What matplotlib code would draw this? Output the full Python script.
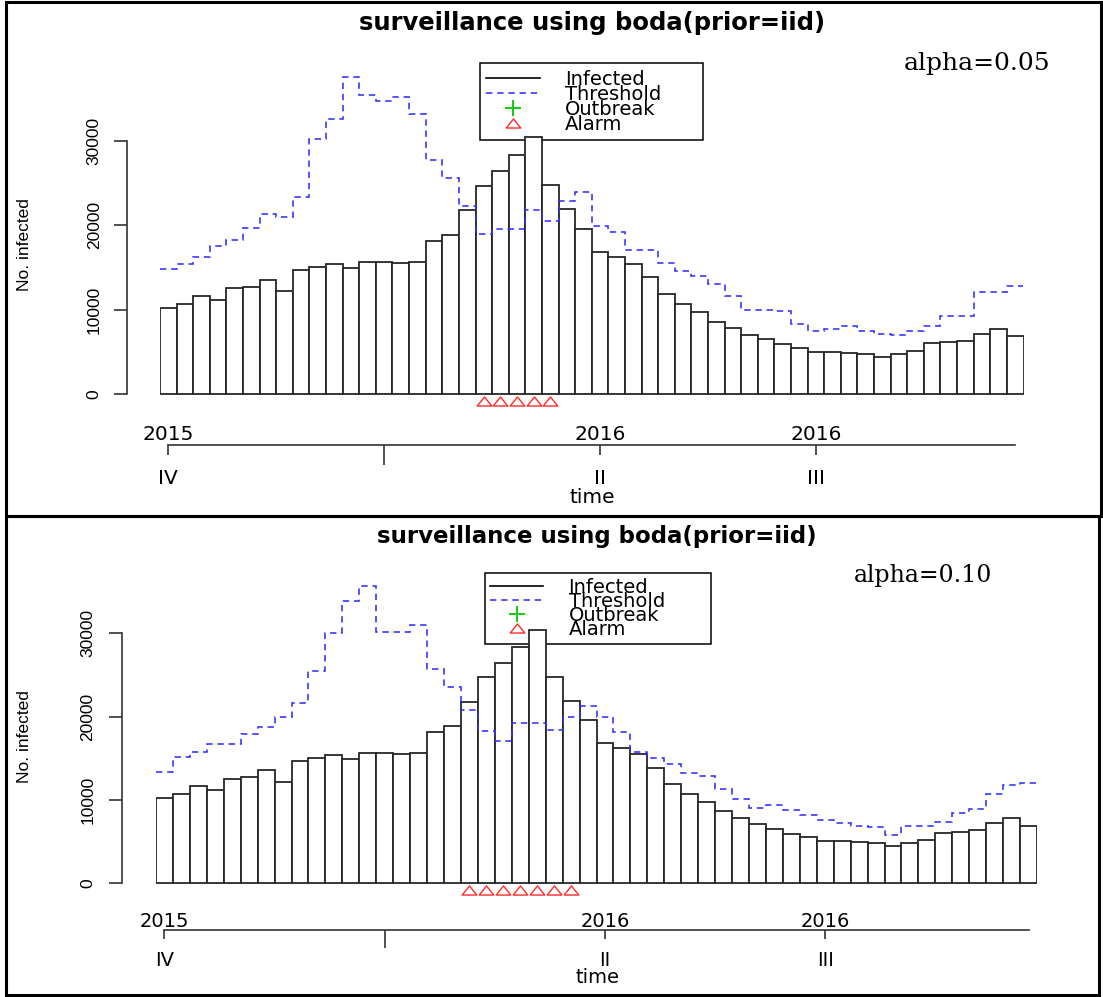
import numpy as np
import matplotlib
matplotlib.use("Agg")
import matplotlib.pyplot as plt
from matplotlib.lines import Line2D
from matplotlib.patches import Rectangle
from matplotlib.path import Path

# ---------------- data ----------------
weeks = np.arange(1, 53)

infected = [10250, 10750, 11650, 11200, 12550, 12750, 13550, 12200, 14700, 15050,
            15450, 14950, 15650, 15650, 15550, 15650, 18150, 18900, 21800, 24700,
            26450, 28300, 30400, 24800, 21900, 19550, 16850, 16250, 15470, 13860,
            11890, 10750, 9720, 8620, 7830, 7090, 6570, 5940, 5550, 5040,
            5040, 4920, 4800, 4450, 4800, 5200, 6060, 6180, 6340, 7200,
            7780, 6910]

threshold_a05 = [14880, 15430, 16200, 17520, 18300, 19690, 21340, 20940, 23300, 30200,
                 32560, 37520, 35430, 34640, 35160, 33150, 27760, 25590, 22240, 19020,
                 19570, 19610, 21770, 20470, 22830, 23940, 19960, 19210, 17130, 17130,
                 15550, 14650, 14060, 13070, 11610, 9960, 9960, 9840, 8390, 7560,
                 7760, 8150, 7480, 7200, 7090, 7560, 8070, 9330, 9330, 12130,
                 12130, 12870]

threshold_a10 = [13390, 15200, 15720, 16760, 16760, 17920, 18720, 20000, 21600, 25480,
                 30000, 33880, 35720, 30200, 30200, 31000, 25680, 23560, 20800, 18320,
                 17120, 19280, 19280, 18400, 20000, 21320, 20000, 18200, 15720, 15080,
                 14280, 13200, 12880, 11280, 10080, 9000, 9400, 8800, 8200, 7600,
                 7200, 6920, 6800, 5800, 6880, 6880, 7400, 8400, 8880, 10720,
                 11800, 12080]

alarm_weeks_a05 = [20, 21, 22, 23, 24]
alarm_weeks_a10 = [19, 20, 21, 22, 23, 24, 25]

quarter_weeks = [1, 27, 40]
quarter_labels = ["IV", "II", "III"]
year_tick_week = 14
year_labels = ["2015", "2016", "2016"]

y_ticks = [0, 10000, 20000, 30000]
y_tick_labels = ["0", "10000", "20000", "30000"]

title_text = "surveillance using boda(prior=iid)"
legend_labels = ["Infected", "Threshold", "Outbreak", "Alarm"]

# ---------------- figure ----------------
W, H = 1103, 997
PT = 0.72  # points per pixel at 100 dpi
fig = plt.figure(figsize=(W / 100, H / 100), dpi=100)
fig.patch.set_facecolor("white")


def fx(px):
    return px / W


def fy(py):
    return 1 - py / H


EDGE = "#262626"
BLUE = "#2f2fff"
RED = "#ff2a2a"
GREEN = "#00c800"

# open triangle, wider than tall
tri = Path([(-1.0, -0.62), (1.0, -0.62), (0.0, 0.62), (-1.0, -0.62)],
           [Path.MOVETO, Path.LINETO, Path.LINETO, Path.CLOSEPOLY])


def draw_panel(thr, alarms, alpha_txt, g):
    ppu = (g["zero"] - g["top30"]) / 30000.0  # pixels per unit
    ylo = -(g["base"] - g["zero"]) / ppu
    yhi = 40000
    top_px = g["zero"] - yhi * ppu
    ax = fig.add_axes([fx(g["left"]), fy(g["base"]),
                       (g["right"] - g["left"]) / W, (g["base"] - top_px) / H])
    ax.set_xlim(0.5, 52.5)
    ax.set_ylim(ylo, yhi)
    ax.patch.set_alpha(0)

    ax.bar(weeks, infected, width=1.0, facecolor="white", edgecolor=EDGE,
           linewidth=1.3, zorder=2)
    ax.stairs(thr, edges=np.arange(0.5, 53.5, 1.0), baseline=None, color=BLUE,
              linewidth=1.15, linestyle=(0, (4, 3)), zorder=3)
    ax.plot(alarms, [-g["alarm_off"] / ppu] * len(alarms), linestyle="none",
            marker=tri, markersize=10.5, markerfacecolor="none",
            markeredgecolor=RED, markeredgewidth=1.0, clip_on=False, zorder=4)

    # axes styling
    for s in ("top", "right"):
        ax.spines[s].set_visible(False)
    ax.spines["left"].set_position(("outward", (g["left"] - g["axis_x"]) * PT))
    ax.spines["left"].set_bounds(0, 30000)
    ax.spines["bottom"].set_bounds(1, 52)
    for s in ("left", "bottom"):
        ax.spines[s].set_color("#333333")
        ax.spines[s].set_linewidth(1.2)

    ax.set_yticks(y_ticks)
    ax.set_yticklabels(y_tick_labels, rotation=90, va="center",
                       fontfamily="Liberation Sans", fontsize=12.5)
    ax.tick_params(axis="y", length=g["ytick_len"] * PT, width=1.2,
                   color="#333333", pad=g["ytick_pad"])

    ax.set_xticks(quarter_weeks)
    ax.set_xticklabels(quarter_labels, fontfamily="DejaVu Sans",
                       fontsize=g["xfs"])
    ax.set_xticks([year_tick_week], minor=True)
    ax.tick_params(axis="x", which="major", length=g["qtick"] * PT, width=1.2,
                   color="#333333", pad=g["xpad"])
    ax.tick_params(axis="x", which="minor", length=2 * g["qtick"] * PT,
                   width=1.2, color="#333333")

    for wk, lab in zip(quarter_weeks, year_labels):
        ax.annotate(lab, xy=(wk, 0), xycoords=("data", "axes fraction"),
                    xytext=(0, g["year_off"] * PT), textcoords="offset points",
                    ha="center", va="center", fontsize=g["xfs"],
                    fontfamily="DejaVu Sans")

    ax.set_xlabel("time", fontsize=g["xfs"], fontfamily="DejaVu Sans")
    ax.xaxis.set_label_coords(fx(g["time_x"]), fy(g["time_y"]),
                              transform=fig.transFigure)
    ax.xaxis.label.set_verticalalignment("center")

    ax.set_ylabel("No. infected", fontsize=12.5, fontfamily="Liberation Sans")
    ax.yaxis.set_label_coords(fx(25), fy(g["ylab_y"]), transform=fig.transFigure)
    ax.yaxis.label.set_verticalalignment("center")

    ax.set_title(title_text, fontsize=g["tfs"], fontweight="bold",
                 fontfamily="DejaVu Sans",
                 pad=(top_px - g["title_base"]) * PT)

    ax.text(fx(g["alpha_x"]), fy(g["alpha_base"]), alpha_txt,
            transform=fig.transFigure, ha="left", va="baseline",
            fontsize=g["afs"], fontfamily="DejaVu Serif")

    handles = [
        Line2D([], [], color="black", linewidth=1.2),
        Line2D([], [], color=BLUE, linewidth=1.15, linestyle=(0, (4, 3))),
        Line2D([], [], linestyle="none", marker="+", markersize=11,
               markeredgewidth=1.3, color=GREEN),
        Line2D([], [], linestyle="none", marker=tri, markersize=10.5,
               markerfacecolor="none", markeredgecolor=RED,
               markeredgewidth=1.0),
    ]
    lx0, ly0, lx1, ly1 = g["legend"]
    leg = ax.legend(handles, legend_labels, loc="upper left", mode="expand",
                    bbox_to_anchor=(fx(lx0), fy(ly0) - 1e-6, (lx1 - lx0) / W, 1e-6),
                    bbox_transform=fig.transFigure, borderaxespad=0,
                    prop={"family": "DejaVu Sans", "size": 14},
                    handlelength=2.75, handletextpad=1.3, borderpad=g["bpad"],
                    labelspacing=g["lspace"], fancybox=False, framealpha=1,
                    facecolor="none", edgecolor="black")
    leg.get_frame().set_linewidth(1.1)
    leg.set_zorder(1)
    return ax


panel_a = dict(left=160, right=1023.5, zero=394.5, top30=140.7, base=445,
               axis_x=126.5, ytick_len=13, ytick_pad=8.5, qtick=10, xpad=10,
               xfs=14.5, year_off=10, time_x=592, time_y=497, ylab_y=245,
               tfs=17.5, title_base=30, alpha_x=904, alpha_base=70, afs=18,
               legend=(480, 63.3, 702.5, 138.3), alarm_off=7, lspace=-0.2,
               bpad=0.32)
panel_b = dict(left=156, right=1037, zero=883.3, top30=633.3, base=930,
               axis_x=121.7, ytick_len=13, ytick_pad=9.5, qtick=9, xpad=8.6,
               xfs=14, year_off=9, time_x=597, time_y=977, ylab_y=737,
               tfs=16.5, title_base=543.3, alpha_x=854, alpha_base=581.7, afs=17,
               legend=(485, 573, 711, 644), alarm_off=7, lspace=-0.25,
               bpad=0.25)

draw_panel(threshold_a05, alarm_weeks_a05, "alpha=0.05", panel_a)
draw_panel(threshold_a10, alarm_weeks_a10, "alpha=0.10", panel_b)

# frames around the two panels
for (x0, y0, x1, y1) in [(6, 2, 1101, 516), (6, 516, 1099, 995)]:
    fig.patches.append(Rectangle((fx(x0), fy(y1)), (x1 - x0) / W, (y1 - y0) / H,
                                 transform=fig.transFigure, fill=False,
                                 edgecolor="black", linewidth=2.2))

fig.savefig("out.png", dpi=100)
